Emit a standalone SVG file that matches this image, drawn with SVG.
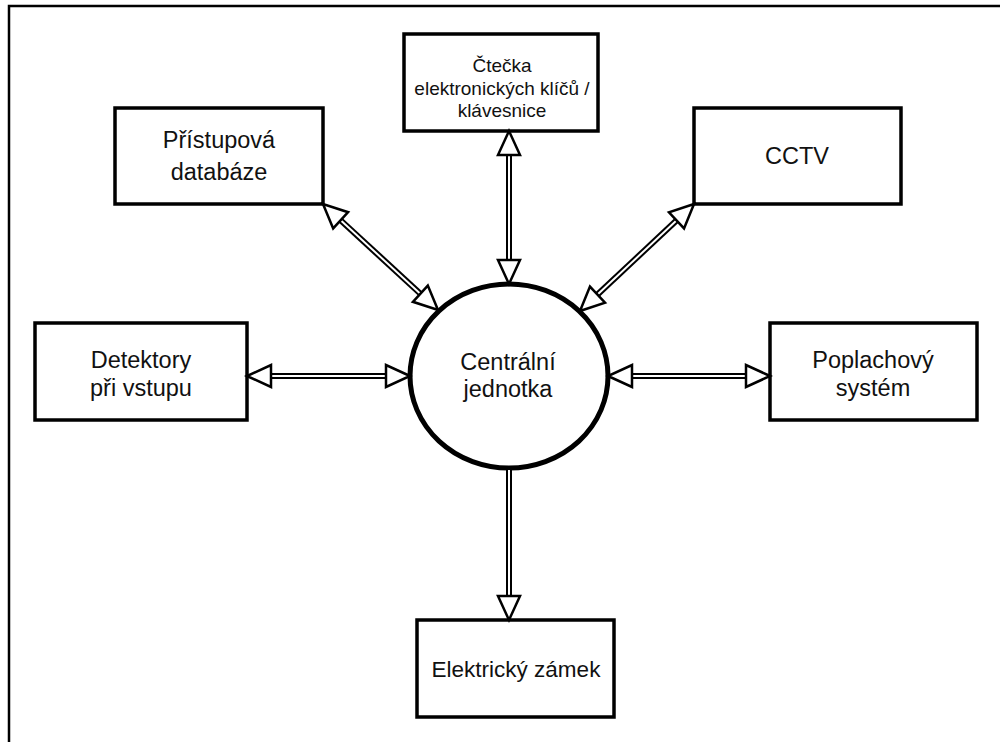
<svg xmlns="http://www.w3.org/2000/svg" xmlns:xlink="http://www.w3.org/1999/xlink" width="1000" height="742" viewBox="0 0 1000 742">
<style>
.box{fill:#fff;stroke:#000;stroke-width:3.5}
.circ{fill:#fff;stroke:#000;stroke-width:5}
.t{font-family:"Liberation Sans",Arial,sans-serif;font-size:23.5px;fill:#111;text-anchor:middle}
.tz{font-size:22.5px}
.ts{font-family:"Liberation Sans",Arial,sans-serif;font-size:19px;fill:#111;text-anchor:middle}
.sh{stroke:#000;stroke-width:6;fill:none}
.shi{stroke:#fff;stroke-width:2;fill:none}
.hd{fill:#fff;stroke:#000;stroke-width:2.5;stroke-linejoin:miter}
</style>
<defs>
<polygon id="head" class="hd" points="0,0 -24,-11 -24,11"/>
</defs>
<rect width="1000" height="742" fill="#fff"/>
<path d="M9,742 V6 H1000" fill="none" stroke="#000" stroke-width="2.5"/>
<g id="node-ctecka">
<rect class="box" x="404" y="34" width="194" height="97"/>
<text class="ts" x="502" y="72">Čtečka</text>
<text class="ts" x="502" y="95">elektronických klíčů /</text>
<text class="ts" x="502" y="117">klávesnice</text>
</g>
<g id="node-databaze">
<rect class="box" x="115" y="108" width="208" height="96"/>
<text class="t" x="219" y="148">Přístupová</text>
<text class="t" x="219" y="180">databáze</text>
</g>
<g id="node-cctv">
<rect class="box" x="694" y="108" width="207" height="96"/>
<text class="t" x="797" y="164">CCTV</text>
</g>
<g id="node-detektory">
<rect class="box" x="35" y="323" width="212" height="97"/>
<text class="t" x="141" y="368">Detektory</text>
<text class="t" x="141" y="396">při vstupu</text>
</g>
<g id="node-poplach">
<rect class="box" x="770" y="323" width="207" height="97"/>
<text class="t" x="873" y="368">Poplachový</text>
<text class="t" x="873" y="396">systém</text>
</g>
<g id="node-zamek">
<rect class="box" x="417" y="620" width="197" height="97"/>
<text class="t tz" x="516" y="677">Elektrický zámek</text>
</g>
<g id="node-centralni">
<ellipse class="circ" cx="509" cy="376" rx="99" ry="92"/>
<text class="t" x="508" y="370">Centrální</text>
<text class="t" x="508" y="397">jednotka</text>
</g>
<g id="connectors">
<g id="c-top">
<line class="sh" x1="509" y1="150" x2="509" y2="265"/>
<line class="shi" x1="509" y1="150" x2="509" y2="265"/>
<use xlink:href="#head" transform="translate(509,131) rotate(-90)"/>
<use xlink:href="#head" transform="translate(509,284) rotate(90)"/>
</g>
<g id="c-db">
<line class="sh" x1="337.7" y1="217.6" x2="423.3" y2="296.4"/>
<line class="shi" x1="337.7" y1="217.6" x2="423.3" y2="296.4"/>
<use xlink:href="#head" transform="translate(323,204) rotate(222.7)"/>
<use xlink:href="#head" transform="translate(438,310) rotate(42.7)"/>
</g>
<g id="c-cctv">
<line class="sh" x1="679.4" y1="217.7" x2="594.6" y2="297.3"/>
<line class="shi" x1="679.4" y1="217.7" x2="594.6" y2="297.3"/>
<use xlink:href="#head" transform="translate(694,204) rotate(-43.2)"/>
<use xlink:href="#head" transform="translate(580,311) rotate(136.8)"/>
</g>
<g id="c-det">
<line class="sh" x1="266" y1="376" x2="391" y2="376"/>
<line class="shi" x1="266" y1="376" x2="391" y2="376"/>
<use xlink:href="#head" transform="translate(247,376) rotate(180)"/>
<use xlink:href="#head" transform="translate(410,376)"/>
</g>
<g id="c-pop">
<line class="sh" x1="627" y1="376" x2="751" y2="376"/>
<line class="shi" x1="627" y1="376" x2="751" y2="376"/>
<use xlink:href="#head" transform="translate(608,376) rotate(180)"/>
<use xlink:href="#head" transform="translate(770,376)"/>
</g>
<g id="c-zamek">
<line class="sh" x1="509" y1="468" x2="509" y2="601"/>
<line class="shi" x1="509" y1="470" x2="509" y2="601"/>
<use xlink:href="#head" transform="translate(509,620) rotate(90)"/>
</g>
</g>
</svg>
